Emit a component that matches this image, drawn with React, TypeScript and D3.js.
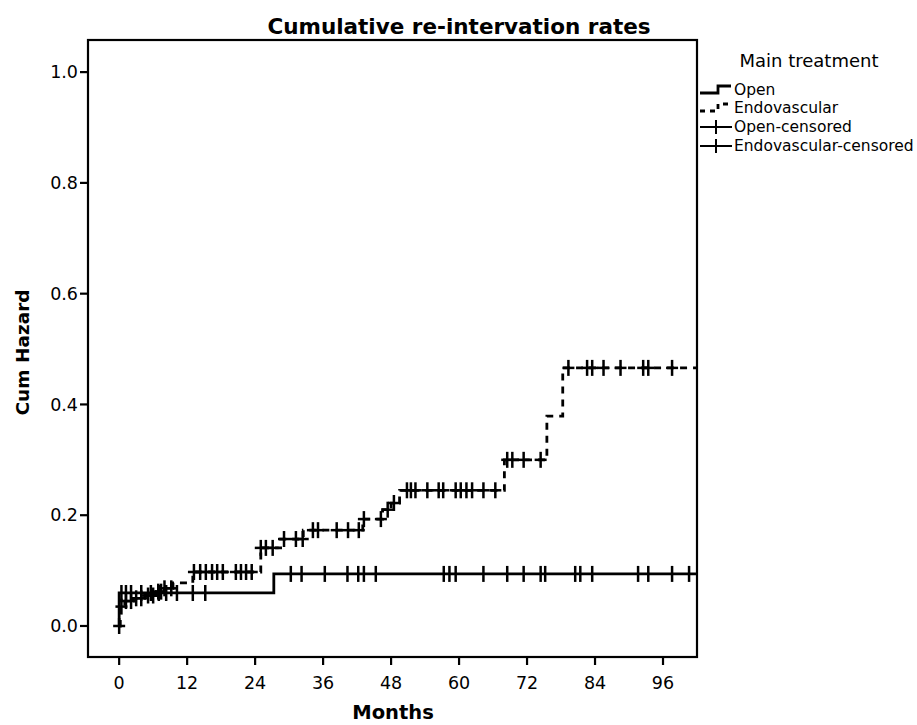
import React from 'react';
import * as d3 from 'd3';

const xTicks = [0, 12, 24, 36, 48, 60, 72, 84, 96];
const yTicks = [0, 0.2, 0.4, 0.6, 0.8, 1.0];

const openSteps: [number, number][] = [[0, 0], [0, 0.0596], [27.3, 0.094]];
const endoSteps: [number, number][] = [
  [0, 0], [0.2, 0.035], [1, 0.045], [2.5, 0.05], [4.5, 0.055], [6.5, 0.062], [8, 0.068],
  [9.5, 0.078], [13, 0.0975], [25, 0.141], [28.5, 0.157], [32.5, 0.173], [43, 0.193],
  [46.5, 0.21], [48, 0.222], [49.5, 0.245], [68, 0.3], [75.5, 0.379], [78.3, 0.466],
];
const openCensored = [
  0.4, 1.2, 2.1, 3.9, 5.6, 7, 8.3, 10.2, 13, 15.2, 30.3, 32.2, 36.3, 40.3, 42.2, 43.2, 45.3,
  57.3, 58.3, 59.4, 64.3, 68.5, 71.4, 74.4, 75.2, 80.5, 81.4, 83.5, 91.6, 93.4, 97.6, 100.6,
];
const endoCensored = [
  0, 0.4, 1.2, 2.1, 3, 3.9, 5.1, 6, 6.9, 7.4, 8, 9.2, 13.2, 14.3, 15.3, 16.4, 17.3, 18.3,
  20.6, 21.5, 22.4, 23.4, 25, 25.9, 27.1, 29.1, 31.2, 32.4, 34.2, 35.1, 38.4, 40.4, 42.3,
  43.2, 46.2, 47.4, 48.5, 50.8, 51.5, 52.3, 54.4, 56.4, 57.2, 59.4, 60.3, 61.3, 62.3, 64.3,
  66.4, 68.5, 69.4, 71.4, 74.4, 79.3, 82.6, 83.5, 85.5, 88.5, 92.5, 93.4, 97.6,
];
const legendItems = ['Open', 'Endovascular', 'Open-censored', 'Endovascular-censored'];

const X_MIN = -5.5, X_MAX = 102, Y_MIN = -0.056, Y_MAX = 1.058;
const L = 88, R = 697, T = 40, B = 657;
const FONT = 'DejaVu Sans, sans-serif';

function valueAt(steps: [number, number][], t: number) {
  let v = 0;
  for (const [s, val] of steps) if (s <= t) v = val;
  return v;
}

export default function App() {
  const x = d3.scaleLinear().domain([X_MIN, X_MAX]).range([L, R]);
  const y = d3.scaleLinear().domain([Y_MIN, Y_MAX]).range([B, T]);
  const line = d3.line<[number, number]>().x(d => x(d[0])).y(d => y(d[1])).curve(d3.curveStepAfter);
  const openPts: [number, number][] = [...openSteps, [X_MAX, openSteps[openSteps.length - 1][1]]];
  const endoPts: [number, number][] = [...endoSteps, [X_MAX, endoSteps[endoSteps.length - 1][1]]];

  const cross = (t: number, steps: [number, number][], key: string, arms: number) => {
    const cx = x(t), cy = y(valueAt(steps, t));
    return (
      <g key={key}>
        <line x1={cx} x2={cx} y1={cy - 8} y2={cy + 8} stroke="#000" strokeWidth={2.5} />
        <line x1={cx - arms} x2={cx + arms} y1={cy} y2={cy} stroke="#000" strokeWidth={2.5} />
      </g>
    );
  };

  const legY = [90, 108, 127, 146];
  return (
    <svg width={917} height={725} style={{ position: 'absolute', left: 0, top: 0, background: '#fff' }} fontFamily={FONT}>
      <defs>
        <clipPath id="plotclip"><rect x={L} y={T} width={R - L} height={B - T} /></clipPath>
      </defs>
      <rect x={0} y={0} width={917} height={725} fill="#fff" />
      <text x={459} y={34} textAnchor="middle" fontSize={21.5} fontWeight="bold">Cumulative re-intervation rates</text>
      <rect x={L} y={T} width={R - L} height={B - T} fill="none" stroke="#000" strokeWidth={2.2} />
      {yTicks.map(v => (
        <g key={'y' + v}>
          <line x1={L - 8} x2={L} y1={y(v)} y2={y(v)} stroke="#000" strokeWidth={2.2} />
          <text x={L - 10} y={y(v)} dy="0.35em" textAnchor="end" fontSize={17.5}>{v.toFixed(1)}</text>
        </g>
      ))}
      {xTicks.map(v => (
        <g key={'x' + v}>
          <line x1={x(v)} x2={x(v)} y1={B} y2={B + 8} stroke="#000" strokeWidth={2.2} />
          <text x={x(v)} y={B + 26} dy="0.35em" textAnchor="middle" fontSize={17.5}>{v}</text>
        </g>
      ))}
      <text x={393} y={719} textAnchor="middle" fontSize={19.5} fontWeight="bold">Months</text>
      <text transform={`translate(29, ${(T + B) / 2 + 4}) rotate(-90)`} textAnchor="middle" fontSize={18.5} fontWeight="bold">Cum Hazard</text>
      <g clipPath="url(#plotclip)">
        <path d={line(openPts) || ''} fill="none" stroke="#000" strokeWidth={2.8} />
        <path d={line(endoPts) || ''} fill="none" stroke="#000" strokeWidth={2.8} strokeDasharray="7,6" />
        {openCensored.map((t, i) => cross(t, openSteps, 'oc' + i, 0))}
        {endoCensored.map((t, i) => cross(t, endoSteps, 'ec' + i, 6))}
      </g>
      <text x={809} y={67} textAnchor="middle" fontSize={18}>Main treatment</text>
      <g>
        <path d={`M700,${legY[0] + 3}H718V${legY[0] - 4}H731`} fill="none" stroke="#000" strokeWidth={2.8} />
        <path d={`M700,${legY[1] + 3}H718V${legY[1] - 4}H731`} fill="none" stroke="#000" strokeWidth={2.8} strokeDasharray="5,5" />
        {[2, 3].map(i => (
          <g key={'lc' + i}>
            <line x1={700} x2={732} y1={legY[i]} y2={legY[i]} stroke="#000" strokeWidth={2} />
            <line x1={716} x2={716} y1={legY[i] - 7} y2={legY[i] + 7} stroke="#000" strokeWidth={2} />
          </g>
        ))}
        {legendItems.map((s, i) => (
          <text key={s} x={734} y={legY[i]} dy="0.35em" fontSize={15.5}>{s}</text>
        ))}
      </g>
    </svg>
  );
}
